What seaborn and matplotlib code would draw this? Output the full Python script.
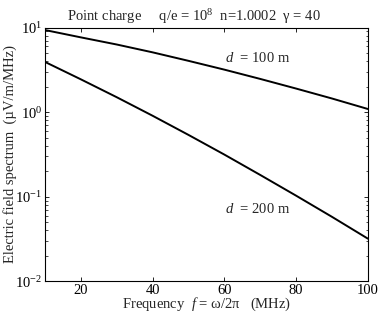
# import modules
import numpy as np
import pandas as pd
import matplotlib
matplotlib.use("Agg")
import matplotlib.pyplot as plt
import seaborn as sb

# data (MHz, uV/m/MHz)
freq = [10, 20, 30, 40, 50, 60, 70, 80, 90, 100]
spec_100m = [9.34, 7.65, 6.30, 5.09, 4.04, 3.18, 2.47, 1.90, 1.45, 1.09]
spec_200m = [3.92, 2.44, 1.50, 0.906, 0.538, 0.315, 0.181, 0.103, 0.0579, 0.032]
curve_labels = ["$d$  = 100 m", "$d$  = 200 m"]
xtick_vals = [20, 40, 60, 80, 100]

# figure style
fs = 10.5
sb.set_style("ticks")
plt.rcParams['font.family'] = ['Liberation Serif', 'DejaVu Serif']
plt.rcParams['mathtext.fontset'] = 'custom'
plt.rcParams['mathtext.rm'] = 'Liberation Serif'
plt.rcParams['mathtext.it'] = 'Liberation Serif:italic'
plt.rcParams['font.size'] = fs

df = pd.DataFrame({
    "freq": freq * 2,
    "spec": spec_100m + spec_200m,
    "dist": ["100 m"] * len(freq) + ["200 m"] * len(freq),
})

fig = plt.figure(figsize=(3.82, 3.13), dpi=100)
ax = fig.add_axes([0.118, 0.101, 0.845, 0.811])

sb.lineplot(data=df, x="freq", y="spec", units="dist", estimator=None,
            color="black", linewidth=1.4, legend=False, ax=ax)

ax.set_yscale("log")
ax.set_xlim(10, 100)
ax.set_ylim(1e-2, 1e1)
ax.set_xticks(xtick_vals)

# ticks inward on all sides
ax.tick_params(which="both", direction="in", top=True, right=True,
               labelsize=fs, colors="black")
ax.tick_params(which="major", length=3, width=0.6, pad=2)
ax.tick_params(which="minor", length=1.8, width=0.5)
for b in ['top', 'bottom', 'left', 'right']:
    ax.spines[b].set_linewidth(0.8)
    ax.spines[b].set_color("black")

# labels
ax.set_xlabel(r"Frequency  $f$ = ω/2π   (MHz)", fontsize=fs, labelpad=-1)
ax.set_ylabel("Electric field spectrum  (µV/m/MHz)", fontsize=fs, labelpad=-1)
ax.text(0.069, 1.008, r"Point charge     q/e = 10$^8$  n=1.0002  γ = 40",
        transform=ax.transAxes, fontsize=fs, ha="left", va="bottom")

# curve annotations
ax.text(60.2, 4.4, curve_labels[0], fontsize=fs, va="center")
ax.text(60.2, 0.072, curve_labels[1], fontsize=fs, va="center")

plt.savefig("out.png", dpi=100)
